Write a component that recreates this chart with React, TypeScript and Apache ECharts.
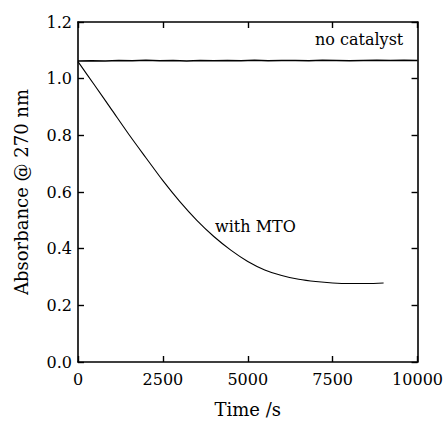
import React, { useEffect, useRef } from "react";
import * as echarts from "echarts";

const noCatTime = [0, 400, 800, 1200, 1600, 2000, 2400, 2800, 3200, 3600, 4000, 4400, 4800, 5200, 5600, 6000, 6400, 6800, 7200, 7600, 8000, 8400, 8800, 9200, 9600, 10000];
const noCatAbs = [1.062, 1.063, 1.062, 1.064, 1.063, 1.065, 1.063, 1.064, 1.062, 1.064, 1.063, 1.064, 1.063, 1.065, 1.063, 1.064, 1.064, 1.063, 1.065, 1.064, 1.063, 1.064, 1.065, 1.064, 1.065, 1.064];

const mtoTime = [0, 500, 1000, 1500, 2000, 2500, 3000, 3500, 4000, 4500, 5000, 5500, 6000, 6500, 7000, 7500, 8000, 8500, 9000];
const mtoAbs = [1.06, 0.975, 0.889, 0.803, 0.721, 0.64, 0.566, 0.5, 0.443, 0.395, 0.355, 0.325, 0.305, 0.292, 0.284, 0.279, 0.277, 0.277, 0.279];

const xTicks = [0, 2500, 5000, 7500, 10000];
const yTicks = [0.0, 0.2, 0.4, 0.6, 0.8, 1.0, 1.2];

const FONT = "DejaVu Serif";

export default function App() {
  const ref = useRef<HTMLDivElement>(null);
  useEffect(() => {
    if (!ref.current) return;
    const chart = echarts.init(ref.current, undefined, { renderer: "svg" });
    const axisCommon = {
      axisLine: { show: true, onZero: false, lineStyle: { color: "#000", width: 1.6 } },
      axisTick: { show: true, inside: true, length: 6, lineStyle: { color: "#000", width: 1.4 } },
      splitLine: { show: false },
    };
    chart.setOption({
      animation: false,
      backgroundColor: "#fff",
      grid: { left: 78, right: 23, top: 22, bottom: 60, containLabel: false },
      xAxis: [
        {
          type: "value",
          min: 0,
          max: 10000,
          interval: 2500,
          position: "bottom",
          name: "Time /s",
          nameLocation: "middle",
          nameGap: 38,
          nameTextStyle: { fontFamily: FONT, fontSize: 18, color: "#000" },
          axisLabel: {
            fontFamily: FONT,
            fontSize: 16,
            color: "#000",
            margin: 9,
            formatter: (v: number) => (xTicks.includes(v) ? String(v) : ""),
          },
          ...axisCommon,
        },
        {
          type: "value",
          min: 0,
          max: 10000,
          interval: 2500,
          position: "top",
          axisLabel: { show: false },
          ...axisCommon,
        },
      ],
      yAxis: [
        {
          type: "value",
          min: 0,
          max: 1.2,
          interval: 0.2,
          position: "left",
          name: "Absorbance @ 270 nm",
          nameLocation: "middle",
          nameGap: 48,
          nameTextStyle: { fontFamily: FONT, fontSize: 18, color: "#000" },
          axisLabel: {
            fontFamily: FONT,
            fontSize: 16,
            color: "#000",
            margin: 6,
            formatter: (v: number) => {
              const t = yTicks.find((y) => Math.abs(y - v) < 1e-6);
              return t === undefined ? "" : t.toFixed(1);
            },
          },
          ...axisCommon,
        },
        {
          type: "value",
          min: 0,
          max: 1.2,
          interval: 0.2,
          position: "right",
          axisLabel: { show: false },
          ...axisCommon,
        },
      ],
      series: [
        {
          type: "line",
          name: "no catalyst",
          data: noCatTime.map((t, i) => [t, noCatAbs[i]]),
          showSymbol: false,
          symbol: "none",
          lineStyle: { color: "#000", width: 1.5 },
        },
        {
          type: "line",
          name: "with MTO",
          data: mtoTime.map((t, i) => [t, mtoAbs[i]]),
          showSymbol: false,
          symbol: "none",
          smooth: 0.3,
          lineStyle: { color: "#000", width: 1.1 },
        },
      ],
      graphic: [
        {
          type: "text",
          left: 315,
          top: 31,
          style: { text: "no catalyst", fontFamily: FONT, fontSize: 16, fill: "#000" },
        },
        {
          type: "text",
          left: 215,
          top: 218,
          style: { text: "with MTO", fontFamily: FONT, fontSize: 16, fill: "#000" },
        },
      ],
    });
    return () => chart.dispose();
  }, []);
  return (
    <div
      ref={ref}
      style={{ position: "fixed", left: 0, top: 0, width: 446, height: 423 }}
    />
  );
}
